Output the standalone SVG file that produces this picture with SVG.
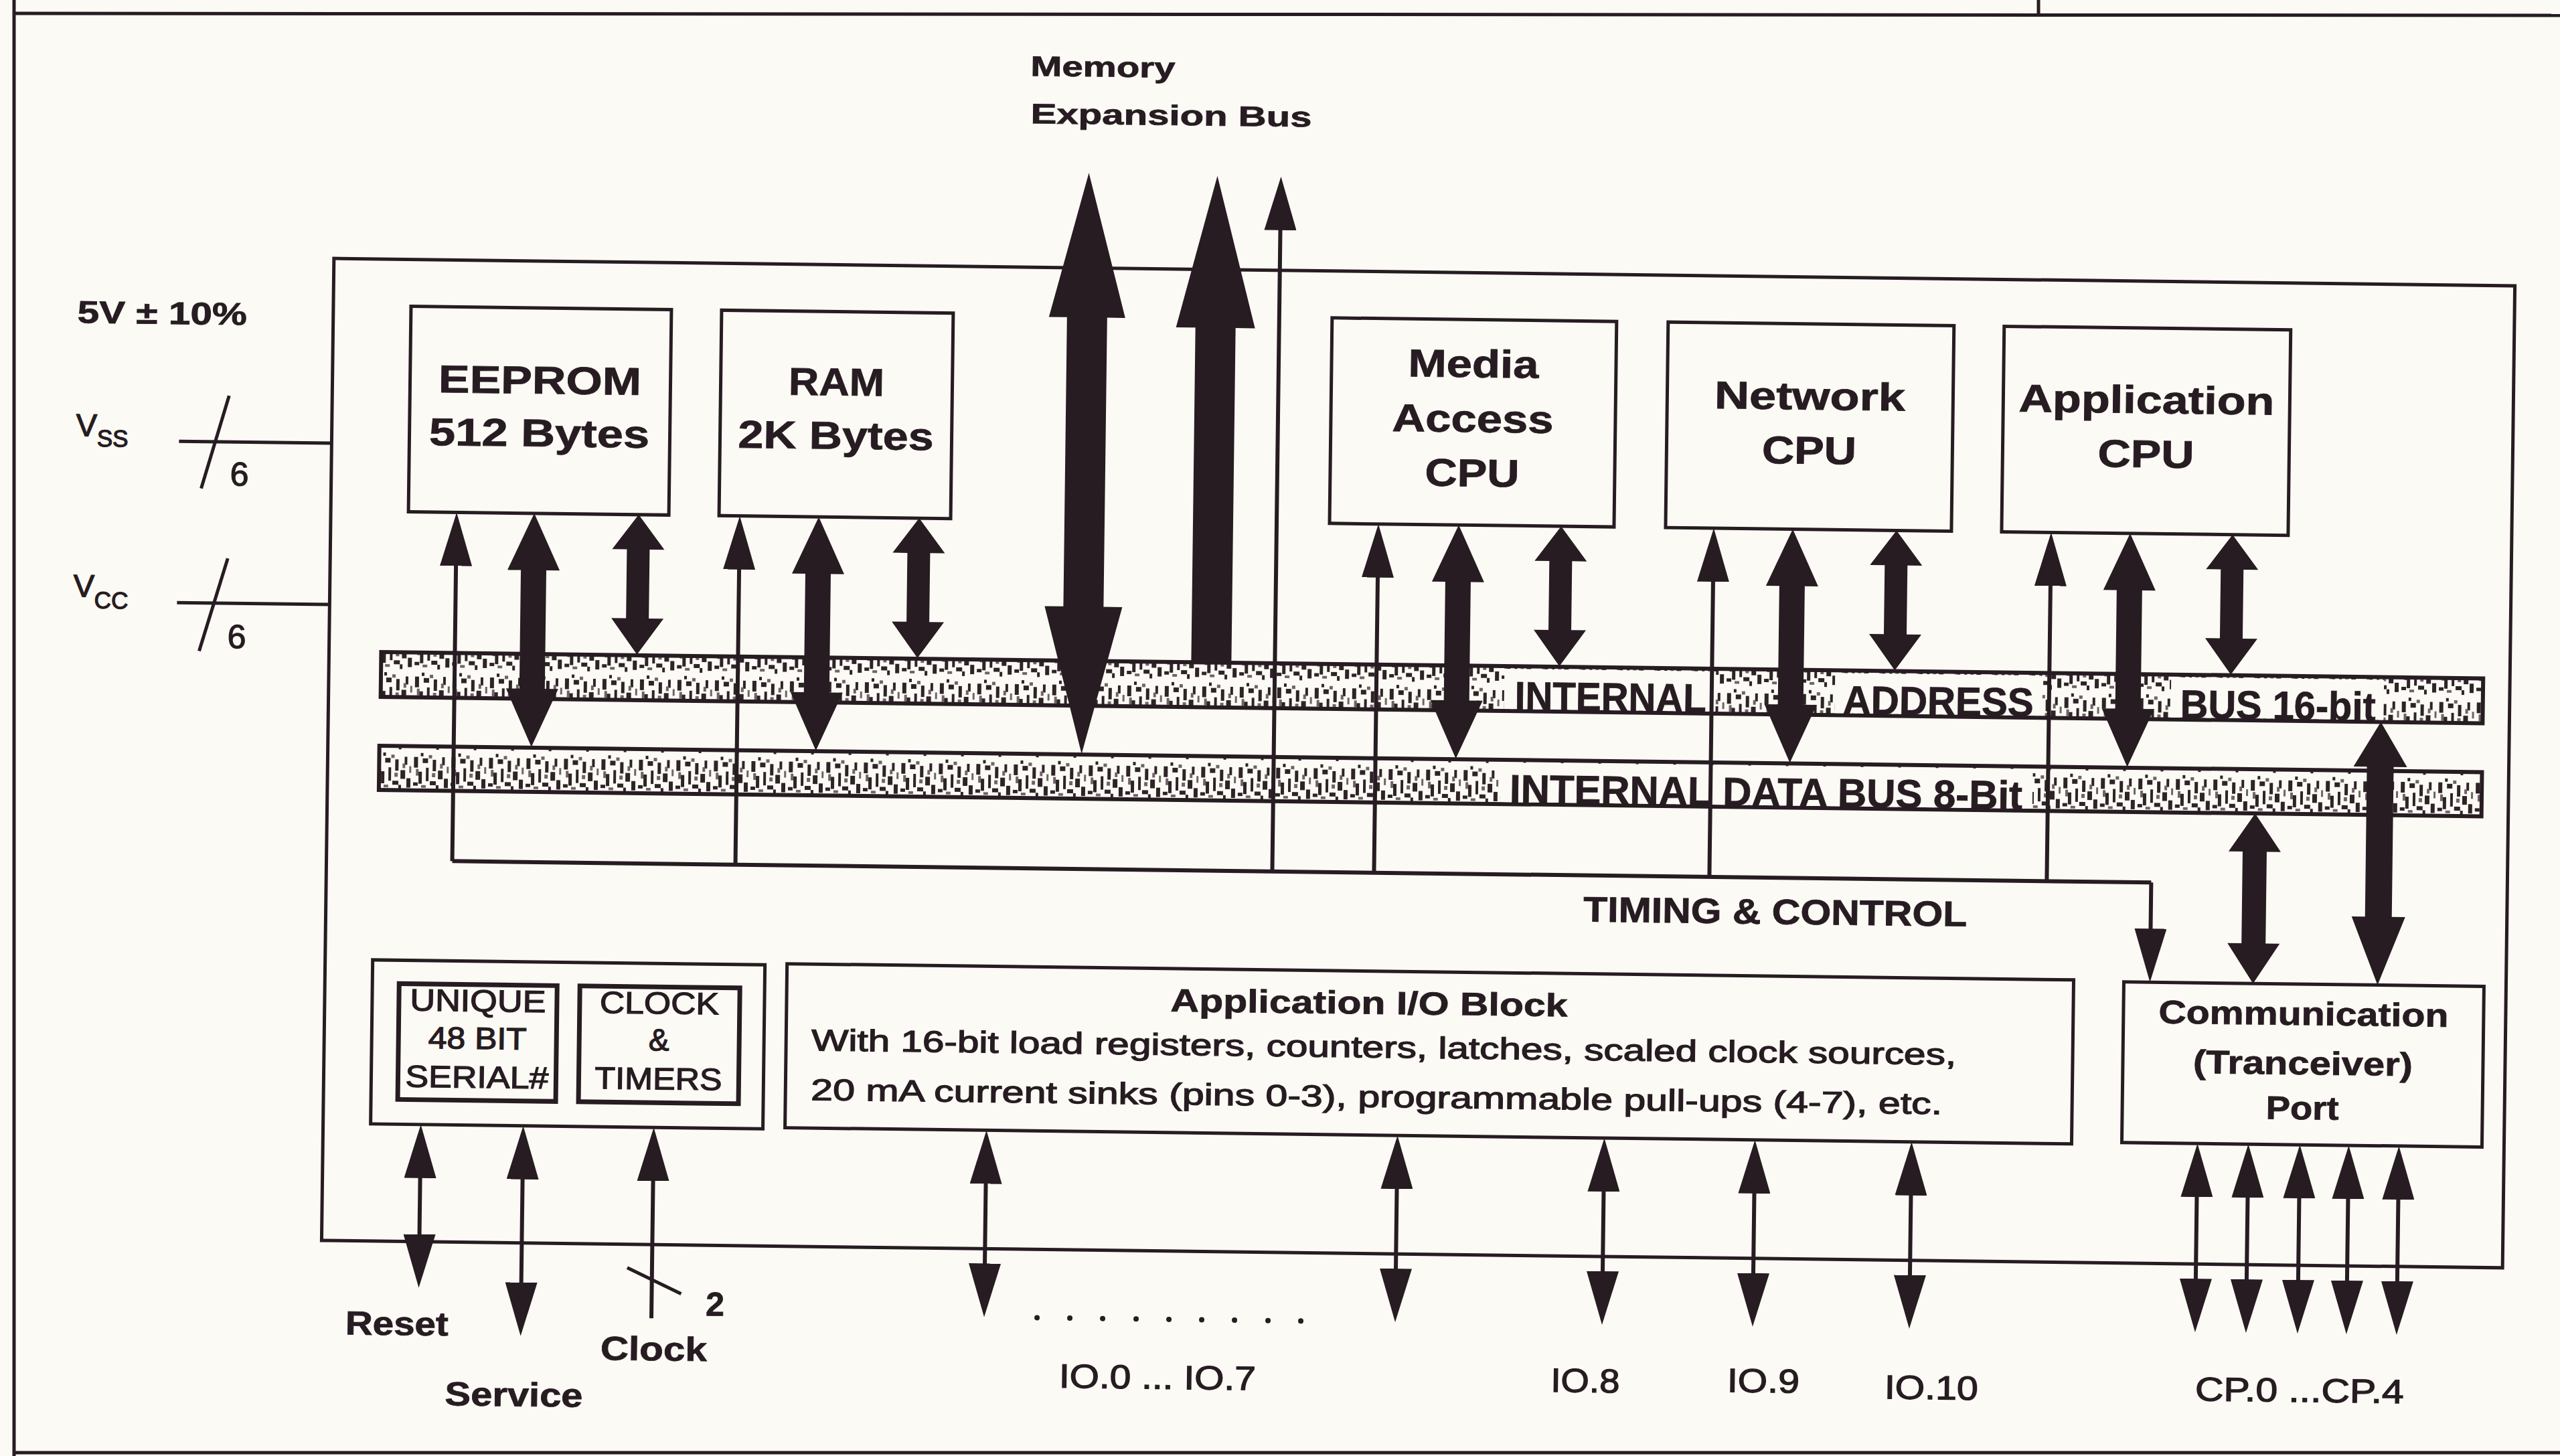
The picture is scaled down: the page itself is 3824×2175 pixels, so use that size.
<svg xmlns="http://www.w3.org/2000/svg" width="3824" height="2175" viewBox="0 0 3824 2175">
<style>
.bg{fill:#fcfaf4}
.ln{stroke:#261c22;stroke-width:5;fill:none}
.bx{stroke:#261c22;stroke-width:5;fill:none}
.bx2{stroke:#261c22;stroke-width:7;fill:none}
.th{stroke:#261c22;stroke-width:6;fill:none}
.ink{fill:#261c22}
.wh{fill:#fcfaf4}
.tb{font-family:"Liberation Sans",Arial,Helvetica,sans-serif;font-weight:bold;fill:#261c22;stroke:#261c22;stroke-width:0.8}
.tr{font-family:"Liberation Sans",Arial,Helvetica,sans-serif;font-weight:normal;fill:#261c22;stroke:#261c22;stroke-width:1.3}
.m{text-anchor:middle}
.bar{fill:url(#noise);stroke:#261c22;stroke-width:6}
.ar{marker-end:url(#ah)}
.ar2{marker-start:url(#ah);marker-end:url(#ah)}
</style>
<defs>
<pattern id="noise" width="56" height="60" patternUnits="userSpaceOnUse">
<g fill="#2e2428">
<rect x="3" y="8" width="6" height="16"/>
<rect x="10" y="30" width="5" height="18"/>
<rect x="16" y="10" width="8" height="7"/>
<rect x="21" y="24" width="4" height="20"/>
<rect x="27" y="44" width="9" height="6"/>
<rect x="31" y="12" width="5" height="17"/>
<rect x="39" y="28" width="7" height="13"/>
<rect x="45" y="8" width="4" height="12"/>
<rect x="48" y="40" width="6" height="14"/>
<rect x="2" y="46" width="7" height="5"/>
<rect x="36" y="50" width="4" height="7"/>
<rect x="13" y="2" width="4" height="5"/>
</g>
<g fill="#6e6468">
<rect x="6" y="26" width="4" height="10"/>
<rect x="25" y="5" width="5" height="5"/>
<rect x="14" y="50" width="7" height="4"/>
<rect x="42" y="18" width="4" height="7"/>
<rect x="52" y="22" width="3" height="10"/>
<rect x="30" y="32" width="5" height="6"/>
</g>
</pattern>
<marker id="ah" viewBox="0 0 80 48" refX="55" refY="24" markerWidth="80" markerHeight="48" markerUnits="userSpaceOnUse" orient="auto-start-reverse">
<path d="M0,0 L80,24 L0,48 Z" fill="#261c22"/>
</marker>
<path id="bigDbl" d="M0,782 L39,867 L19,867 L19,1044 L39,1044 L0,1131 L-39,1044 L-19,1044 L-19,867 L-39,867 Z" fill="#261c22"/>
<path id="smallDbl" d="M0,782 L39,834 L17,834 L17,937 L39,937 L0,991 L-39,937 L-17,937 L-17,834 L-39,834 Z" fill="#261c22"/>
</defs>

<rect class="bg" x="0" y="0" width="3824" height="2175"/>

<g id="frame">
<path class="ln" d="M21,0 V2175"/>
<path class="ln" d="M21,20 L3824,23"/>
<path class="ln" d="M3045,0 V22"/>
<path class="ln" d="M21,2170 H3824"/>
</g>

<g id="diagram" transform="rotate(0.72 2000 1100)">

<g id="n-chip"><rect class="bx" x="490" y="405" width="3258" height="1467"/></g>

<g id="n-supply">
<text class="tb" x="108" y="506" font-size="47" textLength="253" lengthAdjust="spacingAndGlyphs">5V ± 10%</text>
<text class="tr" x="108" y="675" font-size="47">V<tspan font-size="35" dy="15">SS</tspan></text>
<path class="ln" d="M262,681 H490"/>
<path class="ln" d="M336,612 L296,751"/>
<text class="tr" x="339" y="746" font-size="50">6</text>
<text class="tr" x="107" y="915" font-size="47">V<tspan font-size="35" dy="17">CC</tspan></text>
<path class="ln" d="M262,922 H490"/>
<path class="ln" d="M337,855 L296,994"/>
<text class="tr" x="338" y="989" font-size="50">6</text>
</g>

<g id="n-membus-label">
<text class="tb" x="1527" y="119" font-size="42" textLength="216" lengthAdjust="spacingAndGlyphs">Memory</text>
<text class="tb" x="1528" y="190" font-size="42" textLength="420" lengthAdjust="spacingAndGlyphs">Expansion Bus</text>
</g>

<g id="n-eeprom">
<rect class="bx" x="606" y="475" width="389" height="307"/>
<text class="tb m" x="800" y="603" font-size="58" textLength="303" lengthAdjust="spacingAndGlyphs">EEPROM</text>
<text class="tb m" x="800" y="682" font-size="58" textLength="329" lengthAdjust="spacingAndGlyphs">512 Bytes</text>
</g>
<g id="n-ram">
<rect class="bx" x="1070" y="475" width="346" height="307"/>
<text class="tb m" x="1243" y="600" font-size="58" textLength="143" lengthAdjust="spacingAndGlyphs">RAM</text>
<text class="tb m" x="1243" y="680" font-size="58" textLength="292" lengthAdjust="spacingAndGlyphs">2K Bytes</text>
</g>
<g id="n-media">
<rect class="bx" x="1982" y="475" width="425" height="307"/>
<text class="tb m" x="2194" y="561" font-size="58" textLength="195" lengthAdjust="spacingAndGlyphs">Media</text>
<text class="tb m" x="2194" y="643" font-size="58" textLength="241" lengthAdjust="spacingAndGlyphs">Access</text>
<text class="tb m" x="2194" y="724" font-size="58" textLength="141" lengthAdjust="spacingAndGlyphs">CPU</text>
</g>
<g id="n-network">
<rect class="bx" x="2484" y="475" width="427" height="307"/>
<text class="tb m" x="2697" y="603" font-size="58" textLength="285" lengthAdjust="spacingAndGlyphs">Network</text>
<text class="tb m" x="2697" y="684" font-size="58" textLength="141" lengthAdjust="spacingAndGlyphs">CPU</text>
</g>
<g id="n-app">
<rect class="bx" x="2986" y="475" width="428" height="307"/>
<text class="tb m" x="3200" y="602" font-size="58" textLength="382" lengthAdjust="spacingAndGlyphs">Application</text>
<text class="tb m" x="3200" y="683" font-size="58" textLength="144" lengthAdjust="spacingAndGlyphs">CPU</text>
</g>

<g id="n-addrbus">
<rect class="bar" x="568" y="992" width="3140" height="67"/>
<rect class="wh" x="2246" y="996" width="316" height="60"/>
<rect class="wh" x="2740" y="996" width="310" height="60"/>
<rect class="wh" x="3242" y="996" width="318" height="60"/>
<text class="tb" x="2262" y="1057" font-size="60" textLength="286" lengthAdjust="spacingAndGlyphs">INTERNAL</text>
<text class="tb" x="2752" y="1057" font-size="60" textLength="285" lengthAdjust="spacingAndGlyphs">ADDRESS</text>
<text class="tb" x="3256" y="1057" font-size="60" textLength="292" lengthAdjust="spacingAndGlyphs">BUS 16-bit</text>
</g>
<g id="n-databus">
<rect class="bar" x="567" y="1132" width="3141" height="66"/>
<rect class="wh" x="2242" y="1136" width="795" height="59"/>
<text class="tb" x="2256" y="1196" font-size="60" textLength="766" lengthAdjust="spacingAndGlyphs">INTERNAL DATA BUS 8-Bit</text>
</g>

<g id="n-timing-label">
<text class="tb m" x="2655" y="1372" font-size="53" textLength="573" lengthAdjust="spacingAndGlyphs">TIMING &amp; CONTROL</text>
</g>

<g id="n-leftgroup">
<rect class="bx" x="561" y="1452" width="586" height="245"/>
</g>
<g id="n-serial">
<rect class="bx2" x="601" y="1487" width="236" height="173"/>
<text class="tr m" x="719" y="1527" font-size="46" textLength="203" lengthAdjust="spacingAndGlyphs">UNIQUE</text>
<text class="tr m" x="719" y="1583" font-size="46" textLength="147" lengthAdjust="spacingAndGlyphs">48 BIT</text>
<text class="tr m" x="719" y="1641" font-size="46" textLength="214" lengthAdjust="spacingAndGlyphs">SERIAL#</text>
</g>
<g id="n-clock">
<rect class="bx2" x="871" y="1487" width="239" height="173"/>
<text class="tr m" x="990" y="1527" font-size="46" textLength="178" lengthAdjust="spacingAndGlyphs">CLOCK</text>
<text class="tr m" x="990" y="1582" font-size="46">&amp;</text>
<text class="tr m" x="990" y="1640" font-size="46" textLength="190" lengthAdjust="spacingAndGlyphs">TIMERS</text>
</g>

<g id="n-appio">
<rect class="bx" x="1180" y="1450" width="1922" height="245"/>
<text class="tb m" x="2050" y="1514" font-size="48" textLength="593" lengthAdjust="spacingAndGlyphs">Application I/O Block</text>
<text class="tr" x="1218" y="1579" font-size="45" textLength="1710" lengthAdjust="spacingAndGlyphs">With 16-bit load registers, counters, latches, scaled clock sources,</text>
<text class="tr" x="1218" y="1653" font-size="45" textLength="1690" lengthAdjust="spacingAndGlyphs">20 mA current sinks (pins 0-3), programmable pull-ups (4-7), etc.</text>
</g>

<g id="n-comm">
<rect class="bx" x="3177" y="1452" width="538" height="240"/>
<text class="tb m" x="3446" y="1513" font-size="49" textLength="433" lengthAdjust="spacingAndGlyphs">Communication</text>
<text class="tb m" x="3446" y="1587" font-size="49" textLength="328" lengthAdjust="spacingAndGlyphs">(Tranceiver)</text>
<text class="tb m" x="3446" y="1654" font-size="49" textLength="109" lengthAdjust="spacingAndGlyphs">Port</text>
</g>

<g id="n-pin-labels">
<text class="tb m" x="604" y="2012" font-size="50" textLength="154" lengthAdjust="spacingAndGlyphs">Reset</text>
<text class="tb m" x="780" y="2116" font-size="50" textLength="206" lengthAdjust="spacingAndGlyphs">Service</text>
<text class="tb m" x="988" y="2045" font-size="50" textLength="159" lengthAdjust="spacingAndGlyphs">Clock</text>
<text class="tb" x="1065" y="1977" font-size="50">2</text>
<text class="tr m" x="1741" y="2078" font-size="50" textLength="294" lengthAdjust="spacingAndGlyphs">IO.0 ... IO.7</text>
<text class="tr m" x="2380" y="2075" font-size="50" textLength="103" lengthAdjust="spacingAndGlyphs">IO.8</text>
<text class="tr m" x="2646" y="2072" font-size="50" textLength="108" lengthAdjust="spacingAndGlyphs">IO.9</text>
<text class="tr m" x="2897" y="2079" font-size="50" textLength="140" lengthAdjust="spacingAndGlyphs">IO.10</text>
<text class="tr m" x="3447" y="2076" font-size="50" textLength="312" lengthAdjust="spacingAndGlyphs">CP.0 ...CP.4</text>
<g class="ink">
<circle cx="1560" cy="1974" r="4"/><circle cx="1609" cy="1974" r="4"/><circle cx="1658" cy="1974" r="4"/>
<circle cx="1708" cy="1974" r="4"/><circle cx="1757" cy="1974" r="4"/><circle cx="1806" cy="1974" r="4"/>
<circle cx="1855" cy="1974" r="4"/><circle cx="1905" cy="1974" r="4"/><circle cx="1954" cy="1974" r="4"/>
</g>
</g>

<g id="connectors">
<path class="ink" d="M1616,263 L1673,479 L1646,479 L1646,911 L1674,911 L1616,1131 L1558,911 L1586,911 L1586,479 L1559,479 Z"/>
<path class="ink" d="M1808,265 L1867,492 L1838,492 L1838,992 L1778,992 L1778,492 L1749,492 Z"/>
<path class="th ar" d="M1903,1303 V290"/>
<path class="th" d="M678,1303 H3216"/>
<path class="th ar" d="M678,1303 V807"/>
<path class="th ar" d="M1101,1303 V807"/>
<path class="th ar" d="M2055,1303 V807"/>
<path class="th ar" d="M2556,1303 V807"/>
<path class="th ar" d="M3060,1303 V807"/>
<path class="th ar" d="M3216,1303 V1427"/>
<use href="#bigDbl" x="794"/>
<use href="#smallDbl" x="950"/>
<use href="#bigDbl" x="1219"/>
<use href="#smallDbl" x="1369"/>
<use href="#bigDbl" x="2175"/>
<use href="#smallDbl" x="2328"/>
<use href="#bigDbl" x="2674"/>
<use href="#smallDbl" x="2829"/>
<use href="#bigDbl" x="3178"/>
<use href="#smallDbl" x="3331"/>
<path class="ink" d="M3370,1198 L3409,1255 L3388,1255 L3388,1392 L3409,1392 L3370,1452 L3331,1392 L3352,1392 L3352,1255 L3331,1255 Z"/>
<path class="ink" d="M3556,1059 L3596,1126 L3576,1126 L3576,1350 L3596,1350 L3556,1452 L3516,1350 L3536,1350 L3536,1126 L3516,1126 Z"/>
<path class="th ar2" d="M636,1722 V1916"/>
<path class="th ar2" d="M789,1722 V1986"/>
<path class="th ar" d="M984,1982 V1722"/>
<path class="ln" d="M947,1907 L1028,1945"/>
<path class="th ar2" d="M1481,1720 V1949"/>
<path class="th ar2" d="M2095,1720 V1949"/>
<path class="th ar2" d="M2404,1720 V1949"/>
<path class="th ar2" d="M2629,1720 V1949"/>
<path class="th ar2" d="M2863,1720 V1949"/>
<path class="th ar2" d="M3290,1717 V1949"/>
<path class="th ar2" d="M3366,1717 V1949"/>
<path class="th ar2" d="M3443,1717 V1949"/>
<path class="th ar2" d="M3516,1717 V1949"/>
<path class="th ar2" d="M3591,1717 V1949"/>
</g>

</g>
</svg>
